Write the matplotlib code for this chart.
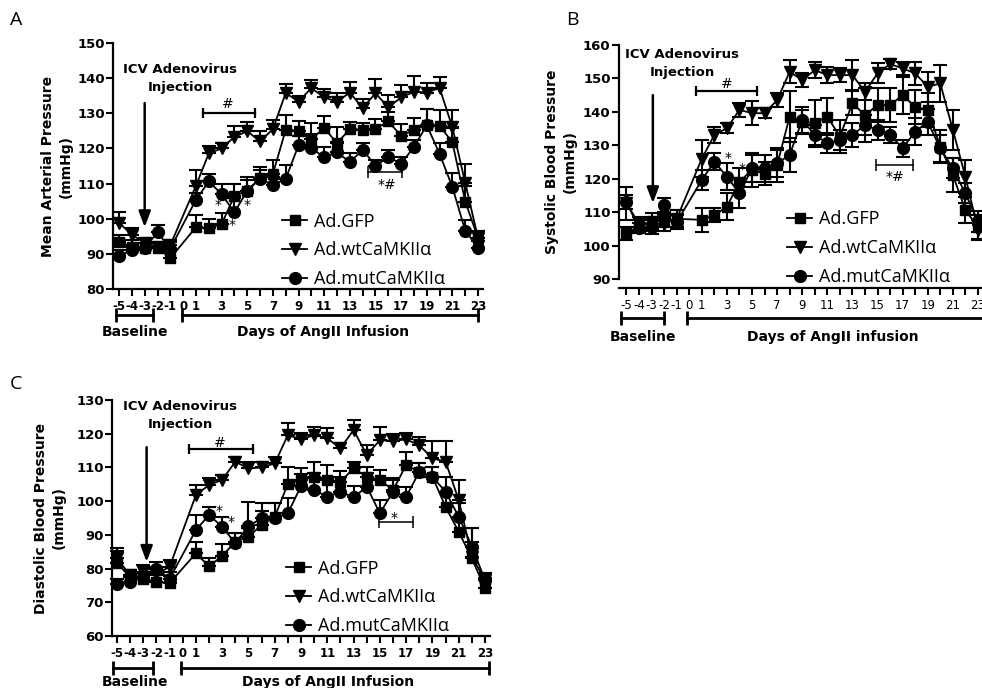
import numpy as np
import matplotlib
matplotlib.use("Agg")
import matplotlib.pyplot as plt

plt.rcParams['axes.unicode_minus'] = False
plt.rcParams['font.family'] = ['DejaVu Sans']

# day axis: 5 baseline days, then 23 days of AngII infusion
days = [-5, -4, -3, -2, -1] + list(range(1, 24))
tickDays = list(range(-5, 24))
tickLabels = [str(d) if (d <= 1 or d % 2 == 1) else '' for d in tickDays]
seriesNames = ['Ad.GFP', 'Ad.wtCaMKII\u03b1', 'Ad.mutCaMKII\u03b1']

# A - mean arterial pressure (mmHg)
gfpA = [93.5, 92, 91.7, 91.7, 88.8, 97.6, 97.3, 98.5, 106.5, 108, 111.6, 112.8, 125.3, 124.9, 122.7,
        125.8, 121.5, 125.5, 125.3, 125.5, 127.7, 123.6, 125.3, 126.8, 126.5, 121.7, 104.9, 94.5]
gfpErrA = [2, 2, 1.5, 1.5, 2, 3.5, 2.5, 3, 3.5, 4, 3, 4, 4.3, 2.8, 4.5, 3.3, 4.5, 2, 2, 2.8,
           2.8, 3.3, 3.5, 4.5, 4.5, 4, 4.5, 2]
wtA = [98.8, 95.5, 93, 92, 92.5, 109.4, 118.6, 120, 123.3, 124.9, 122, 125.5, 135.8, 133.3, 137.2,
       134.5, 133.3, 135.9, 131.5, 135.7, 131.7, 134.5, 136.1, 135.9, 137.2, 126, 110.2, 94.5]
wtErrA = [3, 2, 1.5, 1.5, 1.5, 4.5, 2, 1.5, 3, 2.5, 3, 2.5, 2.4, 1.5, 2.2, 2.5, 2.5, 3, 2.5, 4,
          3.5, 3.5, 4.5, 2.8, 3, 5, 5.5, 2]
mutA = [89.5, 91, 91.7, 96.1, 91.5, 105.4, 110.6, 107, 101.8, 108, 111.4, 109.5, 111.4, 120.9, 120.1,
        117.5, 118.9, 116.1, 119.6, 115.1, 117.5, 115.7, 120.4, 126.6, 118.5, 109, 96.6, 91.7]
mutErrA = [1.5, 1.5, 1.5, 2, 2, 2, 2, 3, 4, 3, 2.5, 2.5, 4, 2.5, 4, 3, 3, 2.5, 2, 1.5,
           2, 2, 2, 4.5, 3, 4, 3, 2]

# B - systolic blood pressure (mmHg)
gfpB = [103.7, 105.7, 107.2, 107.5, 108, 107.7, 109.1, 111.6, 119.1, 122.6, 121.5, 124.1, 138.6, 137,
        136.6, 138.6, 132.6, 142.6, 139, 142, 142, 145, 141.5, 140.6, 129.6, 121.1, 110.6, 105.5]
gfpErrB = [2, 2, 2.5, 2, 2.5, 3.5, 2, 4, 4, 5, 3.5, 5, 7.5, 3.5, 7, 5.5, 5, 3.5, 8, 5,
           5, 5.5, 5, 5, 5, 5, 4, 3.5]
wtB = [112.6, 106.5, 106.5, 106.5, 108, 126, 133.1, 135.1, 140.6, 139.6, 139.6, 143.5, 152, 149.5,
       152.5, 151, 151, 151, 146, 151.5, 154.3, 153, 151.5, 147.5, 148.5, 134.6, 120.6, 104.7]
wtErrB = [5, 2, 2, 2, 2.5, 5.5, 2.5, 1.5, 2, 3.5, 1.5, 2, 3.5, 2, 2.5, 2.5, 2, 4.5, 2.5, 3,
          1.5, 2, 3.5, 4.5, 5.5, 6, 5, 3]
mutB = [113, 105.2, 105.5, 112.1, 107, 119.6, 125.1, 120.6, 115.6, 123.1, 123.1, 124.6, 127.1, 137.6,
        133.1, 130.6, 131.6, 133.1, 136, 134.6, 133.1, 129.1, 134.1, 137, 129.1, 123.1, 115.6, 107.2]
mutErrB = [2, 1.5, 2, 2, 2, 3, 2.5, 4, 4.5, 4, 4, 4, 5, 4, 3, 3, 3, 3.5, 3, 3,
           2.5, 2.5, 4, 4, 4, 3, 3, 3]

# C - diastolic blood pressure (mmHg)
gfpC = [81.6, 77.5, 77, 76.1, 75.7, 84.5, 80.7, 83.7, 88, 89.4, 93, 95.4, 105.1, 106.3, 107.2,
        106.3, 105.8, 109.7, 107.2, 106.3, 103.3, 110.7, 108.7, 107.2, 98.3, 90.9, 83, 74.1]
gfpErrC = [3.5, 2, 2, 2, 2, 3.5, 2.5, 3.5, 2.5, 2.5, 4, 4, 5, 3.5, 4.5, 4.5, 3, 2, 3, 3,
           3.5, 4, 2.5, 3, 4, 4, 5, 3]
wtC = [83, 78, 79, 78.5, 80.5, 101.8, 104.8, 106.3, 111.7, 109.7, 110, 111.2, 119.6, 118.3, 119.6,
       118.6, 115.7, 121.1, 113.7, 118.1, 117.9, 118.3, 116.6, 112.7, 111.7, 100.3, 83.5, 76.6]
wtErrC = [3, 1.5, 2, 2, 2, 3, 2, 1.5, 1.5, 2, 1.5, 2, 3.5, 2, 2.5, 3, 1.5, 3, 3, 4,
          2, 2, 2.5, 5, 6, 6, 8.5, 2]
mutC = [75.3, 76, 77.4, 80, 77, 91.4, 95.9, 92.4, 87.5, 92.6, 94.9, 94.9, 96.4, 104.5, 103.3,
        101.3, 102.8, 101.1, 104.3, 96.4, 102.8, 101.3, 108.7, 107.2, 102.8, 95.4, 86.5, 76.6]
mutErrC = [1.5, 1.5, 1.5, 2, 2, 4.5, 2.5, 3, 3, 7, 4.5, 4.5, 4.5, 3.5, 5, 5.5, 4.5, 3.5, 4, 4,
           3.5, 3, 2.5, 3, 4.5, 4, 5.5, 2]

boldFont = dict(family='DejaVu Sans', weight='bold')


def drawPanel(ax, series, errors, xlim, ylim, ylabel, labelX, legendXY, twoSided=False):
    markers = ['s', 'v', 'o']
    sizes = [7.3, 8.5, 8.5]
    handles = []
    for vals, err, m, ms in zip(series, errors, markers, sizes):
        err = np.array(err)
        yerr = err if twoSided else [np.zeros_like(err), err]
        c = ax.errorbar(days, vals, yerr=yerr, fmt='-', marker=m, ms=ms, color='black', lw=1.3,
                        elinewidth=1.5, capsize=5, capthick=1.5, clip_on=False)
        handles.append(c[0])

    ax.set_xlim(*xlim)
    ax.set_ylim(*ylim)
    ax.set_yticks(np.arange(ylim[0], ylim[1] + 1, 10))
    ax.set_xticks(tickDays)
    ax.set_xticklabels(tickLabels)
    for s in ['top', 'right']:
        ax.spines[s].set_visible(False)
    for s in ['left', 'bottom']:
        ax.spines[s].set_linewidth(1.6)
    ax.tick_params(axis='y', length=5, width=1.5, pad=1, labelsize=9.5)
    ax.tick_params(axis='x', length=5, width=1.5, pad=3, labelsize=8.5)
    for lab in ax.get_xticklabels() + ax.get_yticklabels():
        lab.set_fontweight('bold')

    ax.set_ylabel(ylabel, fontsize=10, fontweight='bold', ha='center', va='center', linespacing=1.35)
    ax.yaxis.set_label_coords(labelX, 0.5)

    ax.legend(handles, seriesNames, loc='upper left', bbox_to_anchor=legendXY, frameon=False,
              borderpad=0, borderaxespad=0, handlelength=1.4, handletextpad=0.35,
              labelspacing=0.6, numpoints=1, prop=dict(family='Open Sans', size=13))


def bracket(ax, x0, x1, y, ms=6, lw=1.6, trans=None):
    kw = dict(color='black', lw=lw, marker='|', ms=ms, mew=lw, clip_on=False)
    if trans is not None:
        kw['transform'] = trans
    ax.plot([x0, x1], [y, y], **kw)


def belowAxis(ax, yBracket, yText, baseRange, infRange, baseX, infX, infText):
    tr = ax.get_xaxis_transform()
    bracket(ax, baseRange[0], baseRange[1], yBracket, ms=10, lw=2, trans=tr)
    bracket(ax, infRange[0], infRange[1], yBracket, ms=10, lw=2, trans=tr)
    ax.text(baseX, yText, 'Baseline', transform=tr, ha='center', va='center', fontsize=10, **boldFont)
    ax.text(infX, yText, infText, transform=tr, ha='center', va='center', fontsize=10, **boldFont)


def injection(ax, textX, textY, arrowX, y0, y1):
    ax.text(textX, textY, 'ICV Adenovirus\nInjection', ha='center', va='center', fontsize=9.5,
            linespacing=1.5, **boldFont)
    ax.annotate('', xy=(arrowX, y1), xytext=(arrowX, y0),
                arrowprops=dict(arrowstyle='-|>,head_length=0.95,head_width=0.36', color='black',
                                lw=1.8, mutation_scale=10, shrinkA=0, shrinkB=0))


def mark(ax, x, y, s, size=10):
    ax.text(x, y, s, ha='center', va='center', fontsize=size, family='DejaVu Sans')


fig = plt.figure(figsize=(9.82, 6.88), dpi=100)

# Panel A
axA = fig.add_axes([0.1151, 0.5799, 0.3768, 0.3576])
drawPanel(axA, [gfpA, wtA, mutA], [gfpErrA, wtErrA, mutErrA], (-5.47, 23.39), (80, 150),
          'Mean Arterial Pressure\n(mmHg)', -0.151, (0.457, 0.311))
belowAxis(axA, -0.106, -0.175, (-5.23, -2.35), (-0.1, 23), -3.75, 10.9, 'Days of AngII Infusion')
injection(axA, -0.24, 140.0, -3, 132.9, 97.6)
bracket(axA, 1.55, 5.6, 130, ms=7)
mark(axA, 3.5, 132.6, '#')
bracket(axA, 14.4, 17.1, 113.3, ms=8, lw=1.1)
mark(axA, 15.9, 109.6, '*#')
mark(axA, 2.7, 103.8, '*')
mark(axA, 5.0, 103.8, '*')
mark(axA, 3.8, 98.1, '*')

# Panel B
axB = fig.add_axes([0.6303, 0.5945, 0.3707, 0.3401])
drawPanel(axB, [gfpB, wtB, mutB], [gfpErrB, wtErrB, mutErrB], (-5.6, 23.4), (90, 160),
          'Systolic Blood Pressure\n(mmHg)', -0.16, (0.462, 0.293), twoSided=True)
axB.spines['bottom'].set_position(('outward', 6.5))
belowAxis(axB, -0.167, -0.248, (-5.4, -2.04), (-0.2, 23.6), -3.7, 11.4, 'Days of AngII infusion')
injection(axB, -0.54, 154.6, -2.9, 145, 112.7)
bracket(axB, 0.52, 5.4, 146.2, ms=7)
mark(axB, 3.0, 148.3, '#')
bracket(axB, 14.9, 17.8, 124.1, ms=8, lw=1.1)
mark(axB, 16.4, 120.5, '*#')
mark(axB, 3.1, 126.2, '*')
mark(axB, 4.2, 122.9, '*')

# Panel C
axC = fig.add_axes([0.1141, 0.0756, 0.3849, 0.3430])
drawPanel(axC, [gfpC, wtC, mutC], [gfpErrC, wtErrC, mutErrC], (-5.38, 23.38), (60, 130),
          'Diastolic Blood Pressure\n(mmHg)', -0.164, (0.46, 0.324))
belowAxis(axC, -0.136, -0.195, (-5.3, -2.26), (-0.13, 23.3), -3.63, 11.06, 'Days of AngII Infusion')
injection(axC, -0.2, 125.5, -2.75, 116, 82)
bracket(axC, 0.48, 5.35, 115.5, ms=7)
mark(axC, 2.8, 117.3, '#')
bracket(axC, 14.9, 17.5, 93.8, ms=8, lw=1.1)
mark(axC, 16.1, 95.0, '*')
mark(axC, 2.76, 97.1, '*')
mark(axC, 3.7, 93.8, '*')

for letter, x, y in [('A', 16, 20), ('B', 572, 20), ('C', 16, 384)]:
    fig.text(x / 982, 1 - y / 688, letter, ha='center', va='center', fontsize=14, family='Open Sans')

fig.savefig('out.png', dpi=100)
